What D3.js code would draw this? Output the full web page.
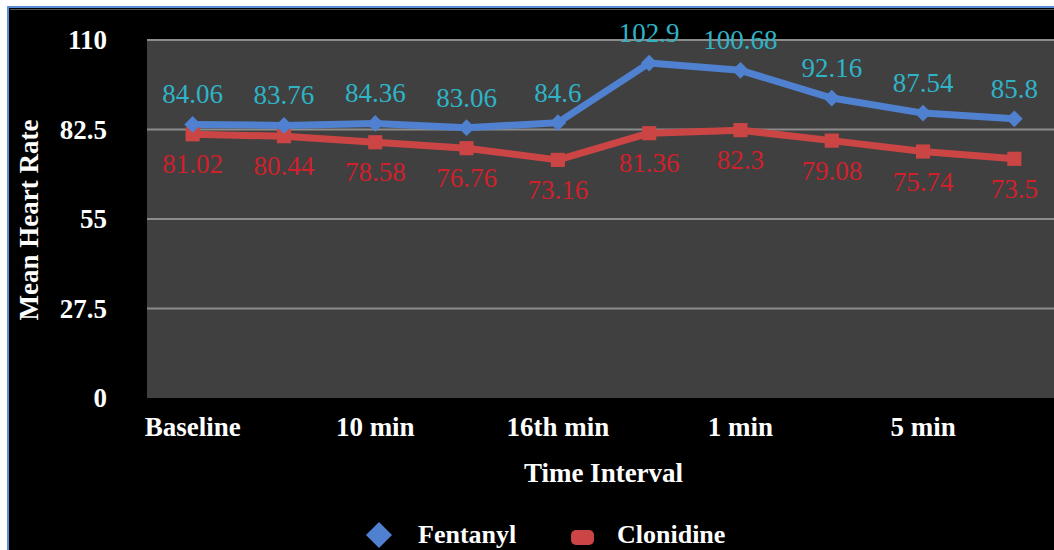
<!DOCTYPE html>
<html><head><meta charset="utf-8">
<script src="https://cdn.jsdelivr.net/npm/d3@7"></script>
<style>html,body{margin:0;padding:0;background:#fff;overflow:hidden}</style>
</head><body>
<svg id="chart" width="1054" height="550"></svg>
<script>
const categories = ["Baseline","5 min","10 min","15 min","16th min","30 sec","1 min","3 min","5 min ","10 min "];
const tickLabels = ["Baseline","","10 min","","16th min","","1 min","","5 min",""];
const fentanyl = [84.06,83.76,84.36,83.06,84.6,102.9,100.68,92.16,87.54,85.8];
const clonidine = [81.02,80.44,78.58,76.76,73.16,81.36,82.3,79.08,75.74,73.5];
const fentanylLabels = ["84.06","83.76","84.36","83.06","84.6","102.9","100.68","92.16","87.54","85.8"];
const clonidineLabels = ["81.02","80.44","78.58","76.76","73.16","81.36","82.3","79.08","75.74","73.5"];
const yTicks = [0,27.5,55,82.5,110];

const svg = d3.select("#chart");
const W = 1054, H = 550;
const serif = "'Liberation Serif','DejaVu Serif',serif";
const FS = 27;

// frame
svg.append("rect").attr("x",0).attr("y",0).attr("width",W).attr("height",H).attr("fill","#fff");
svg.append("rect").attr("x",8).attr("y",7).attr("width",W).attr("height",H).attr("fill","#000")
  .attr("stroke","#5b8fd6").attr("stroke-width",2);
svg.append("line").attr("x1",10).attr("x2",W).attr("y1",9.5).attr("y2",9.5).attr("stroke","#555").attr("stroke-width",1);

const m = {left:147, top:40, right:1060, bottom:398};
const x = d3.scaleBand().domain(d3.range(categories.length)).range([m.left, m.right]);
const y = d3.scaleLinear().domain([0,110]).range([m.bottom, m.top]);
const cx = i => x(i) + x.bandwidth()/2;

svg.append("rect").attr("x",m.left).attr("y",m.top).attr("width",m.right-m.left).attr("height",m.bottom-m.top)
  .attr("fill","#404040");

// gridlines
svg.append("g").selectAll("line").data(yTicks.filter(d=>d>0)).join("line")
  .attr("x1",m.left).attr("x2",m.right).attr("y1",d=>y(d)).attr("y2",d=>y(d))
  .attr("stroke","#8c8c8c").attr("stroke-width",2);

// y axis
const yAxis = d3.axisLeft(y).tickValues(yTicks).tickFormat(d=>String(d)).tickSize(0).tickPadding(0);
const gy = svg.append("g").attr("transform",`translate(${m.left-40},0)`).call(yAxis);
gy.select(".domain").remove();
gy.selectAll("text").attr("fill","#fff").attr("font-family",serif).attr("font-weight","bold").attr("font-size",FS).attr("dy","0.32em");

// x axis
const xAxis = d3.axisBottom(x).tickFormat(i=>tickLabels[i]).tickSize(0).tickPadding(0);
const gx = svg.append("g").attr("transform",`translate(0,${m.bottom})`).call(xAxis);
gx.select(".domain").remove();
gx.selectAll("text").attr("fill","#fff").attr("font-family",serif).attr("font-weight","bold").attr("font-size",FS).attr("y",0).attr("dy","38px");

// axis titles
svg.append("text").attr("x",(m.left+m.right)/2).attr("y",482).attr("text-anchor","middle")
  .attr("fill","#fff").attr("font-family",serif).attr("font-weight","bold").attr("font-size",FS).text("Time Interval");
svg.append("text").attr("transform",`translate(38,220) rotate(-90)`).attr("text-anchor","middle")
  .attr("fill","#fff").attr("font-family",serif).attr("font-weight","bold").attr("font-size",FS).text("Mean Heart Rate");

const blue = "#4f81d0", red = "#cc4545";
const line = d3.line().x((d,i)=>cx(i)).y(d=>y(d));

// series lines
svg.append("path").datum(clonidine).attr("d",line).attr("fill","none").attr("stroke",red).attr("stroke-width",7).attr("stroke-linejoin","round");
svg.append("path").datum(fentanyl).attr("d",line).attr("fill","none").attr("stroke",blue).attr("stroke-width",7).attr("stroke-linejoin","round");

// markers
const rsq = d3.symbol().type(d3.symbolSquare).size(140);
const square = d3.symbol().type(d3.symbolSquare).size(200);
svg.append("g").selectAll("path").data(clonidine).join("path")
  .attr("d",square).attr("transform",(d,i)=>`translate(${cx(i)},${y(d)})`).attr("fill",red);
svg.append("g").selectAll("path").data(fentanyl).join("path")
  .attr("d",rsq).attr("transform",(d,i)=>`translate(${cx(i)},${y(d)}) rotate(45)`).attr("fill",blue);

// data labels
svg.append("g").selectAll("text").data(fentanyl).join("text")
  .attr("x",(d,i)=>cx(i)).attr("y",d=>y(d)-21).attr("text-anchor","middle")
  .attr("fill","#2fb3c6").attr("font-family",serif).attr("font-size",FS).text((d,i)=>fentanylLabels[i]);
svg.append("g").selectAll("text").data(clonidine).join("text")
  .attr("x",(d,i)=>cx(i)).attr("y",d=>y(d)+39).attr("text-anchor","middle")
  .attr("fill","#d0202c").attr("font-family",serif).attr("font-size",FS).text((d,i)=>clonidineLabels[i]);

// legend
const lg = svg.append("g");
lg.append("path").attr("d",d3.symbol().type(d3.symbolSquare).size(340)).attr("transform","translate(379,535) rotate(45)").attr("fill",blue);
lg.append("text").attr("x",418).attr("y",543).attr("fill","#fff").attr("font-family",serif).attr("font-weight","bold").attr("font-size",26).text("Fentanyl");
lg.append("rect").attr("x",571).attr("y",530).attr("width",23).attr("height",15).attr("rx",5).attr("fill",red);
lg.append("text").attr("x",617).attr("y",543).attr("fill","#fff").attr("font-family",serif).attr("font-weight","bold").attr("font-size",26).text("Clonidine");
</script>
</body></html>
